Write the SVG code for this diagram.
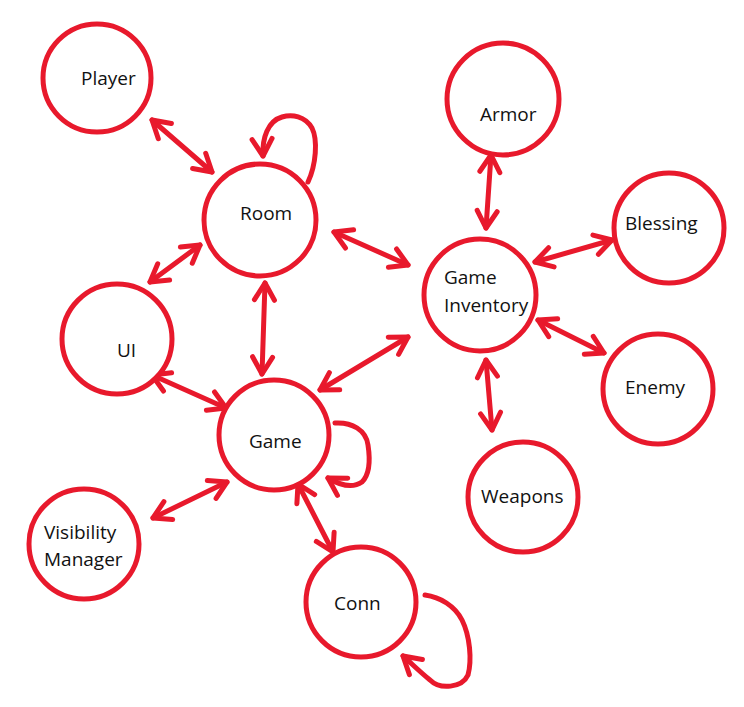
<svg xmlns="http://www.w3.org/2000/svg" width="744" height="707" viewBox="0 0 744 707">
  <defs>
    <style>
      .node circle { fill: #ffffff; stroke: #e8192c; stroke-width: 5; }
      .node text { font-family: "Open Sans", "Noto Sans", sans-serif; font-size: 19px; fill: #111111; }
      .edges path, .edges line { fill: none; stroke: #e8192c; stroke-width: 5; stroke-linecap: round; stroke-linejoin: round; }
      .two { marker-start: url(#head); marker-end: url(#head); }
      .one { marker-end: url(#head); }
    </style>
    <marker id="head" viewBox="-22 -14 26 28" refX="0" refY="0" markerWidth="26" markerHeight="28" markerUnits="userSpaceOnUse" orient="auto-start-reverse">
      <path d="M-17,-10 L0,0 L-17,10" fill="none" stroke="#e8192c" stroke-width="5" stroke-linecap="round" stroke-linejoin="round"/>
    </marker>
  </defs>
  <rect width="744" height="707" fill="#ffffff"/>

  <g class="edges">
    <line class="two" x1="152" y1="120" x2="212" y2="172"/>
    <line class="two" x1="200" y1="245" x2="150" y2="282"/>
    <line class="two" x1="265" y1="283" x2="262" y2="374"/>
    <line class="two" x1="334" y1="232" x2="408" y2="265"/>
    <line class="two" x1="152" y1="375" x2="226" y2="408"/>
    <line class="two" x1="320" y1="390" x2="408" y2="337"/>
    <line class="two" x1="227" y1="482" x2="153" y2="518"/>
    <line class="two" x1="298" y1="484" x2="333" y2="552"/>
    <line class="two" x1="491" y1="155" x2="486" y2="228"/>
    <line class="two" x1="535" y1="262" x2="612" y2="240"/>
    <line class="two" x1="538" y1="320" x2="604" y2="353"/>
    <line class="two" x1="486" y1="360" x2="492" y2="430"/>
    <!-- self loops -->
    <path class="one" d="M308,182 C316,165 318,140 312,128 C305,116 292,114 282,117 C268,121 262,138 263,156"/>
    <path class="one" d="M335,423 C352,422 366,430 368,445 C370,458 370,474 362,482 C352,489 338,484 328,478"/>
    <path class="one" d="M425,595 C440,597 455,606 462,620 C470,636 472,660 468,675 C462,688 440,690 430,680 C420,672 410,662 403,656"/>
  </g>

  <g id="player" class="node"><circle cx="97" cy="78" r="54"/><text x="81" y="85">Player</text></g>
  <g id="room" class="node"><circle cx="260" cy="220" r="56"/><text x="240" y="220">Room</text></g>
  <g id="ui" class="node"><circle cx="117" cy="339" r="55"/><text x="117" y="357">UI</text></g>
  <g id="game" class="node"><circle cx="274" cy="435" r="55"/><text x="249" y="448">Game</text></g>
  <g id="visibility-manager" class="node"><circle cx="84" cy="544" r="55"/><text x="44" y="539">Visibility</text><text x="44" y="566">Manager</text></g>
  <g id="conn" class="node"><circle cx="361" cy="602" r="55"/><text x="334" y="610">Conn</text></g>
  <g id="armor" class="node"><circle cx="503" cy="99" r="56"/><text x="480" y="121">Armor</text></g>
  <g id="game-inventory" class="node"><circle cx="480" cy="295" r="56"/><text x="444" y="284">Game</text><text x="444" y="312">Inventory</text></g>
  <g id="blessing" class="node"><circle cx="669" cy="228" r="55"/><text x="625" y="230">Blessing</text></g>
  <g id="enemy" class="node"><circle cx="658" cy="389" r="55"/><text x="625" y="394">Enemy</text></g>
  <g id="weapons" class="node"><circle cx="523" cy="497" r="55"/><text x="481" y="503">Weapons</text></g>
</svg>
